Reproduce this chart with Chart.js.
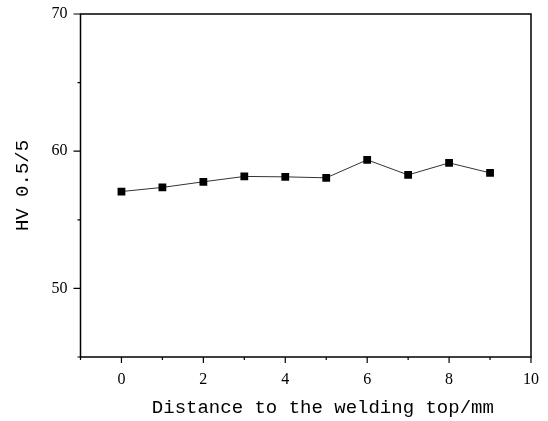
<!DOCTYPE html>
<html>
<head>
<meta charset="utf-8">
<title>HV 0.5/5</title>
<script src="https://cdn.jsdelivr.net/npm/chart.js"></script>
<style>
    html, body { margin: 0; padding: 0; background: #fff; }
    #wrap { width: 548px; height: 421px; }
</style>
</head>
<body>
<div id="wrap"><canvas id="hvChart" width="548" height="421"></canvas></div>
<script>
// distance from welding top, mm
const distances = [0, 1, 2, 3, 4, 5, 6, 7, 8, 9];
// hardness HV 0.5/5
const hardness = [57.06, 57.36, 57.77, 58.16, 58.13, 58.06, 59.37, 58.27, 59.15, 58.42];

const xMajorTicks = [0, 2, 4, 6, 8, 10];
const yMajorTicks = [50, 60, 70];

const serif = '"Liberation Serif", "Times New Roman", serif';
const mono = '"Liberation Mono", "DejaVu Sans Mono", monospace';

// ticks drawn outside the frame, long ones for majors, short for minors
const frameTicks = {
    id: 'frameTicks',
    afterDraw(chart) {
        const ctx = chart.ctx;
        const area = chart.chartArea;
        const xs = chart.scales.x;
        const ys = chart.scales.y;
        ctx.save();
        ctx.strokeStyle = '#000';
        ctx.lineWidth = 1.5;
        ctx.strokeRect(area.left, area.top, area.right - area.left, area.bottom - area.top);
        ctx.lineWidth = 1.2;
        ctx.beginPath();
        for (let v = xs.min; v <= xs.max; v++) {
            const px = xs.getPixelForValue(v);
            const len = xMajorTicks.includes(v) ? 6 : 3;
            ctx.moveTo(px, area.bottom);
            ctx.lineTo(px, area.bottom + len);
        }
        for (let v = ys.min; v <= ys.max; v += 5) {
            const py = ys.getPixelForValue(v);
            const len = yMajorTicks.includes(v) ? 7 : 3;
            ctx.moveTo(area.left, py);
            ctx.lineTo(area.left - len, py);
        }
        ctx.stroke();
        ctx.restore();
    }
};

new Chart(document.getElementById('hvChart'), {
    type: 'scatter',
    data: {
        datasets: [{
            data: distances.map((d, i) => ({ x: d, y: hardness[i] })),
            showLine: true,
            borderColor: '#333',
            borderWidth: 1,
            backgroundColor: '#000',
            pointBackgroundColor: '#000',
            pointBorderColor: '#000',
            pointBorderWidth: 0,
            pointStyle: 'rect',
            pointRadius: 5.5
        }]
    },
    options: {
        responsive: false,
        animation: false,
        layout: { padding: { top: 14, right: 17, bottom: 0, left: 0 } },
        plugins: {
            legend: { display: false },
            tooltip: { enabled: false }
        },
        scales: {
            x: {
                type: 'linear',
                min: -1,
                max: 10,
                afterFit(scale) {
                    scale.height = 64;
                    scale.paddingLeft = 0;
                    scale.paddingRight = 0;
                },
                grid: { display: true, drawOnChartArea: false, drawTicks: false, color: 'transparent' },
                border: { display: false },
                ticks: {
                    stepSize: 1,
                    padding: 13,
                    color: '#000',
                    font: { family: serif, size: 16 },
                    maxRotation: 0,
                    callback: v => xMajorTicks.includes(v) ? String(v) : ''
                },
                title: {
                    display: true,
                    // leading spaces nudge the title right like the original
                    text: '   Distance to the welding top/mm',
                    color: '#000',
                    font: { family: mono, size: 19 },
                    padding: { top: 0, bottom: 2 }
                }
            },
            y: {
                type: 'linear',
                min: 45,
                max: 70,
                afterFit(scale) {
                    scale.width = 80.5;
                    scale.paddingTop = 0;
                    scale.paddingBottom = 0;
                },
                grid: { display: true, drawOnChartArea: false, drawTicks: false, color: 'transparent' },
                border: { display: false },
                ticks: {
                    stepSize: 5,
                    padding: 13,
                    color: '#000',
                    font: { family: serif, size: 16 },
                    callback: v => yMajorTicks.includes(v) ? String(v) : ''
                },
                title: {
                    display: true,
                    text: 'HV 0.5/5',
                    color: '#000',
                    font: { family: mono, size: 19 },
                    padding: { top: 12, bottom: 0 }
                }
            }
        }
    },
    plugins: [frameTicks]
});
</script>
</body>
</html>
